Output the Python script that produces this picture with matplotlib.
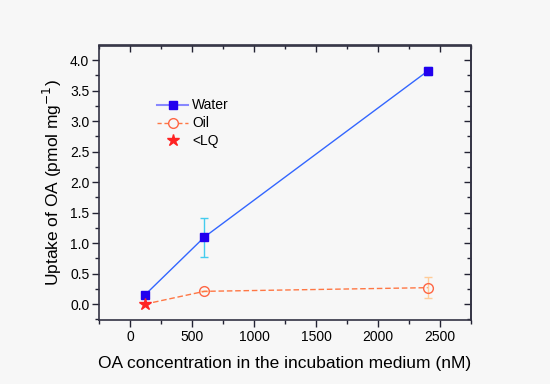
import matplotlib
matplotlib.use('Agg')
import matplotlib.pyplot as plt
from matplotlib.ticker import MultipleLocator, NullFormatter

plt.rcParams['font.family'] = ['Liberation Sans', 'DejaVu Sans']

# Data
water_x = [120, 600, 2400]
water_y = [0.15, 1.10, 3.82]
water_err = [0.02, 0.32, 0.06]

oil_x = [120, 600, 2400]
oil_y = [0.0, 0.21, 0.27]
oil_err = [0.0, 0.0, 0.17]

lq_x = [120]
lq_y = [0.0]

ytick_vals = [0, 0.5, 1.0, 1.5, 2.0, 2.5, 3.0, 3.5, 4.0]
ytick_labels = ['0.0', '0.5', '1.0', '1.5', '2.0', '2.5', '3.0', '3.5', '4.0']

bg = '#f7f7f7'
W, H = 550.0, 384.0
fig = plt.figure(figsize=(5.5, 3.84), dpi=100, facecolor=bg)
ax = fig.add_axes([99 / W, 1 - 320 / H, (471 - 99) / W, (320 - 45.5) / H])
ax.set_facecolor(bg)

# Water
ax.errorbar(water_x, water_y, yerr=water_err, fmt='none', ecolor='#44ccee',
            elinewidth=1, capsize=3, capthick=1, zorder=2)
ax.plot(water_x, water_y, '-', color='#3366ff', lw=1, zorder=3)
ax.plot(water_x, water_y, 's', color='#2200ee', mec='#2200ee', ms=6, zorder=4)

# Oil
ax.errorbar(oil_x[1:], oil_y[1:], yerr=oil_err[1:], fmt='none', ecolor='#ffcc99',
            elinewidth=1, capsize=3, capthick=1, zorder=2)
ax.plot(oil_x, oil_y, '--', color='#ff7744', lw=1, dashes=(4, 2), zorder=3)
ax.plot(oil_x[1:], oil_y[1:], 'o', mfc='none', mec='#ff6644', ms=7, mew=1, zorder=4)
ax.plot(lq_x, lq_y, '*', color='#ff2222', ms=9, zorder=5)

# legend proxies
h1, = ax.plot([], [], '-s', color='#8888ff', mfc='#2200ee', mec='#2200ee', ms=6, lw=1.5)
h2, = ax.plot([], [], '--o', color='#ff7744', mfc=bg, mec='#ff6644', ms=7, lw=1, dashes=(3, 2))
h3, = ax.plot([], [], '*', color='#ff2222', ms=9, ls='none')
ax.legend([h1, h2, h3], ['Water', 'Oil', '<LQ'], loc='upper left',
          bbox_to_anchor=(0.157, 0.807), frameon=False, fontsize=10,
          handlelength=2.2, handletextpad=0.3, labelspacing=0.28,
          borderaxespad=0, borderpad=0)

ax.set_xlim(-250, 2750)
ax.set_ylim(-0.26, 4.24)
ax.xaxis.set_major_locator(MultipleLocator(500))
ax.xaxis.set_minor_locator(MultipleLocator(250))
ax.set_yticks(ytick_vals)
ax.set_yticklabels(ytick_labels)
ax.yaxis.set_minor_locator(MultipleLocator(0.25))
ax.tick_params(which='both', direction='out', labelsize=10, color='#222233', pad=2)
ax.tick_params(which='major', length=5, width=1)
ax.tick_params(which='minor', length=3, width=1)
for s in ax.spines.values():
    s.set_linewidth(1.2)
    s.set_color('#333344')

# mirrored top / right ticks pointing inwards
top = ax.secondary_xaxis('top')
top.xaxis.set_major_locator(MultipleLocator(500))
top.xaxis.set_minor_locator(MultipleLocator(250))
top.xaxis.set_major_formatter(NullFormatter())
right = ax.secondary_yaxis('right')
right.yaxis.set_major_locator(MultipleLocator(0.5))
right.yaxis.set_minor_locator(MultipleLocator(0.25))
right.yaxis.set_major_formatter(NullFormatter())
for sec in (top, right):
    sec.tick_params(which='both', direction='in', color='#222233')
    sec.tick_params(which='major', length=5, width=1)
    sec.tick_params(which='minor', length=3, width=1)
    for s in sec.spines.values():
        s.set_linewidth(1.2)
        s.set_color('#333344')

ax.set_xlabel('OA concentration in the incubation medium (nM)', fontsize=12.5, labelpad=9)
ax.set_ylabel('Uptake of OA (pmol mg$^{-1}$)', fontsize=12.5, labelpad=4)

plt.savefig('out.png', dpi=100, facecolor=bg)
